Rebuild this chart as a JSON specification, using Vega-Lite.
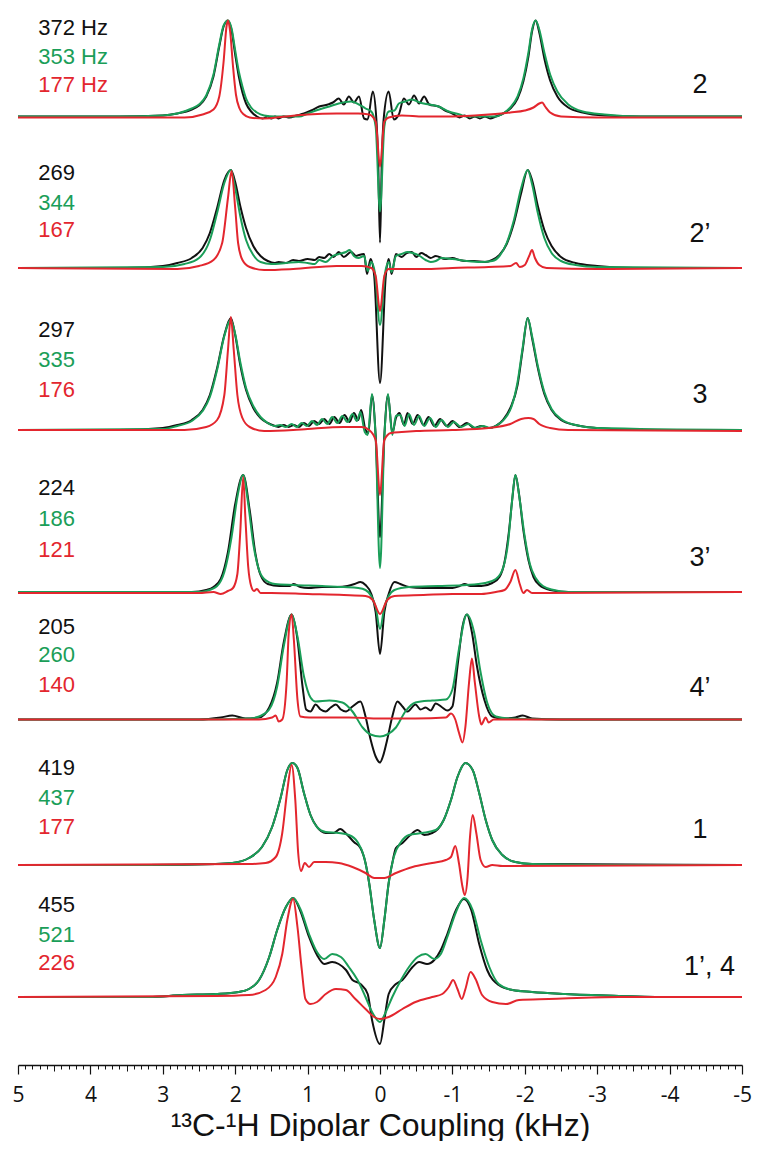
{
"$schema":"https://vega.github.io/schema/vega-lite/v6.json",
"padding":{"left":11,"top":0,"right":8,"bottom":0},
"background":"white",
"spacing":0,
"bounds":"flush",
"config":{"view":{"stroke":null},"concat":{"spacing":0},"text":{"font":"Liberation Sans"}},
"datasets":{
"labels":[
{"p":1,"b":"372 Hz","g":"353 Hz","r":"177 Hz","site":"2"},
{"p":2,"b":"269","g":"344","r":"167","site":"2’"},
{"p":3,"b":"297","g":"335","r":"176","site":"3"},
{"p":4,"b":"224","g":"186","r":"121","site":"3’"},
{"p":5,"b":"205","g":"260","r":"140","site":"4’"},
{"p":6,"b":"419","g":"437","r":"177","site":"1"},
{"p":7,"b":"455","g":"521","r":"226","site":"1’, 4"}
],
"p1":[
{"s":"b","x":5,"y":0},{"s":"b","x":3.6,"y":0},{"s":"b","x":3.0,"y":1},{"s":"b","x":2.8,"y":3},{"s":"b","x":2.6,"y":7},{"s":"b","x":2.5,"y":11},{"s":"b","x":2.4,"y":20},{"s":"b","x":2.3,"y":40},{"s":"b","x":2.22,"y":70},{"s":"b","x":2.16,"y":90},{"s":"b","x":2.1,"y":96},{"s":"b","x":2.05,"y":86},{"s":"b","x":2.0,"y":62},{"s":"b","x":1.95,"y":40},{"s":"b","x":1.9,"y":24},{"s":"b","x":1.85,"y":13},{"s":"b","x":1.78,"y":5},{"s":"b","x":1.7,"y":0},{"s":"b","x":1.62,"y":-2},{"s":"b","x":1.55,"y":0},{"s":"b","x":1.5,"y":-2},{"s":"b","x":1.45,"y":0},{"s":"b","x":1.4,"y":-2},{"s":"b","x":1.33,"y":0},{"s":"b","x":1.25,"y":-1},{"s":"b","x":1.15,"y":1},{"s":"b","x":1.05,"y":3},{"s":"b","x":0.95,"y":6},{"s":"b","x":0.84,"y":10},{"s":"b","x":0.72,"y":12},{"s":"b","x":0.65,"y":14},{"s":"b","x":0.57,"y":18},{"s":"b","x":0.5,"y":12},{"s":"b","x":0.43,"y":20},{"s":"b","x":0.36,"y":14},{"s":"b","x":0.29,"y":20},{"s":"b","x":0.22,"y":-2},{"s":"b","x":0.17,"y":-3},{"s":"b","x":0.1,"y":25},{"s":"b","x":0.05,"y":-3},{"s":"b","x":0.025,"y":-45},{"s":"b","x":0,"y":-126},{"s":"b","x":-0.025,"y":-45},{"s":"b","x":-0.05,"y":-3},{"s":"b","x":-0.12,"y":25},{"s":"b","x":-0.19,"y":-3},{"s":"b","x":-0.26,"y":2},{"s":"b","x":-0.33,"y":18},{"s":"b","x":-0.4,"y":12},{"s":"b","x":-0.47,"y":21},{"s":"b","x":-0.54,"y":13},{"s":"b","x":-0.61,"y":20},{"s":"b","x":-0.68,"y":12},{"s":"b","x":-0.81,"y":10},{"s":"b","x":-0.9,"y":6},{"s":"b","x":-1.0,"y":3},{"s":"b","x":-1.1,"y":-1},{"s":"b","x":-1.17,"y":1},{"s":"b","x":-1.24,"y":-2},{"s":"b","x":-1.31,"y":0},{"s":"b","x":-1.38,"y":-2},{"s":"b","x":-1.45,"y":0},{"s":"b","x":-1.52,"y":-2},{"s":"b","x":-1.6,"y":0},{"s":"b","x":-1.7,"y":3},{"s":"b","x":-1.8,"y":8},{"s":"b","x":-1.9,"y":18},{"s":"b","x":-1.98,"y":35},{"s":"b","x":-2.05,"y":60},{"s":"b","x":-2.1,"y":85},{"s":"b","x":-2.15,"y":96},{"s":"b","x":-2.2,"y":84},{"s":"b","x":-2.27,"y":58},{"s":"b","x":-2.35,"y":36},{"s":"b","x":-2.45,"y":20},{"s":"b","x":-2.6,"y":9},{"s":"b","x":-2.8,"y":4},{"s":"b","x":-3.1,"y":1},{"s":"b","x":-3.6,"y":0},{"s":"b","x":-5,"y":0},
{"s":"g","x":5,"y":0},{"s":"g","x":3.6,"y":0},{"s":"g","x":3.0,"y":1},{"s":"g","x":2.8,"y":3},{"s":"g","x":2.6,"y":8},{"s":"g","x":2.5,"y":12},{"s":"g","x":2.4,"y":21},{"s":"g","x":2.3,"y":42},{"s":"g","x":2.22,"y":72},{"s":"g","x":2.16,"y":91},{"s":"g","x":2.1,"y":96},{"s":"g","x":2.05,"y":88},{"s":"g","x":2.0,"y":66},{"s":"g","x":1.95,"y":45},{"s":"g","x":1.9,"y":30},{"s":"g","x":1.85,"y":18},{"s":"g","x":1.78,"y":9},{"s":"g","x":1.7,"y":4},{"s":"g","x":1.6,"y":1},{"s":"g","x":1.45,"y":0},{"s":"g","x":1.3,"y":0},{"s":"g","x":1.12,"y":0},{"s":"g","x":1.0,"y":3},{"s":"g","x":0.84,"y":7},{"s":"g","x":0.7,"y":10},{"s":"g","x":0.57,"y":13},{"s":"g","x":0.4,"y":15},{"s":"g","x":0.29,"y":12},{"s":"g","x":0.2,"y":8},{"s":"g","x":0.12,"y":5},{"s":"g","x":0.06,"y":-10},{"s":"g","x":0,"y":-95},{"s":"g","x":-0.06,"y":-10},{"s":"g","x":-0.12,"y":5},{"s":"g","x":-0.2,"y":6},{"s":"g","x":-0.26,"y":13},{"s":"g","x":-0.35,"y":15},{"s":"g","x":-0.44,"y":17},{"s":"g","x":-0.55,"y":14},{"s":"g","x":-0.68,"y":12},{"s":"g","x":-0.81,"y":10},{"s":"g","x":-0.95,"y":5},{"s":"g","x":-1.1,"y":2},{"s":"g","x":-1.2,"y":0},{"s":"g","x":-1.6,"y":0},{"s":"g","x":-1.7,"y":3},{"s":"g","x":-1.8,"y":9},{"s":"g","x":-1.9,"y":20},{"s":"g","x":-1.98,"y":38},{"s":"g","x":-2.05,"y":64},{"s":"g","x":-2.1,"y":87},{"s":"g","x":-2.15,"y":96},{"s":"g","x":-2.2,"y":87},{"s":"g","x":-2.27,"y":64},{"s":"g","x":-2.35,"y":42},{"s":"g","x":-2.45,"y":25},{"s":"g","x":-2.6,"y":12},{"s":"g","x":-2.8,"y":5},{"s":"g","x":-3.1,"y":2},{"s":"g","x":-3.6,"y":0},{"s":"g","x":-5,"y":0},
{"s":"r","x":5,"y":-1},{"s":"r","x":3.5,"y":-1},{"s":"r","x":2.7,"y":-1},{"s":"r","x":2.45,"y":2},{"s":"r","x":2.3,"y":7},{"s":"r","x":2.22,"y":20},{"s":"r","x":2.16,"y":55},{"s":"r","x":2.12,"y":90},{"s":"r","x":2.1,"y":96},{"s":"r","x":2.07,"y":85},{"s":"r","x":2.03,"y":50},{"s":"r","x":1.99,"y":22},{"s":"r","x":1.94,"y":8},{"s":"r","x":1.88,"y":2},{"s":"r","x":1.8,"y":-1},{"s":"r","x":1.6,"y":-2},{"s":"r","x":1.3,"y":0},{"s":"r","x":1.0,"y":2},{"s":"r","x":0.6,"y":3},{"s":"r","x":0.3,"y":3},{"s":"r","x":0.15,"y":2},{"s":"r","x":0.06,"y":-5},{"s":"r","x":0,"y":-50},{"s":"r","x":-0.06,"y":-5},{"s":"r","x":-0.12,"y":-1},{"s":"r","x":-0.3,"y":1},{"s":"r","x":-0.6,"y":0},{"s":"r","x":-1.0,"y":0},{"s":"r","x":-1.5,"y":2},{"s":"r","x":-1.8,"y":4},{"s":"r","x":-2.0,"y":6},{"s":"r","x":-2.12,"y":9},{"s":"r","x":-2.2,"y":13},{"s":"r","x":-2.24,"y":14},{"s":"r","x":-2.28,"y":10},{"s":"r","x":-2.35,"y":4},{"s":"r","x":-2.5,"y":0},{"s":"r","x":-3.0,"y":-1},{"s":"r","x":-5,"y":-1}
],
"p2":[
{"s":"b","x":5,"y":0},{"s":"b","x":3.5,"y":0},{"s":"b","x":3.0,"y":2},{"s":"b","x":2.8,"y":5},{"s":"b","x":2.6,"y":10},{"s":"b","x":2.45,"y":20},{"s":"b","x":2.35,"y":35},{"s":"b","x":2.25,"y":60},{"s":"b","x":2.15,"y":88},{"s":"b","x":2.06,"y":98},{"s":"b","x":2.0,"y":86},{"s":"b","x":1.93,"y":62},{"s":"b","x":1.85,"y":40},{"s":"b","x":1.75,"y":22},{"s":"b","x":1.65,"y":12},{"s":"b","x":1.55,"y":7},{"s":"b","x":1.45,"y":5},{"s":"b","x":1.4,"y":6},{"s":"b","x":1.3,"y":5},{"s":"b","x":1.2,"y":8},{"s":"b","x":1.12,"y":7},{"s":"b","x":1.0,"y":9},{"s":"b","x":0.9,"y":8},{"s":"b","x":0.84,"y":11},{"s":"b","x":0.77,"y":10},{"s":"b","x":0.7,"y":14},{"s":"b","x":0.64,"y":11},{"s":"b","x":0.57,"y":16},{"s":"b","x":0.5,"y":11},{"s":"b","x":0.4,"y":16},{"s":"b","x":0.33,"y":12},{"s":"b","x":0.29,"y":13},{"s":"b","x":0.22,"y":14},{"s":"b","x":0.18,"y":-6},{"s":"b","x":0.13,"y":9},{"s":"b","x":0.08,"y":-8},{"s":"b","x":0,"y":-115},{"s":"b","x":-0.08,"y":-8},{"s":"b","x":-0.12,"y":9},{"s":"b","x":-0.16,"y":-6},{"s":"b","x":-0.22,"y":14},{"s":"b","x":-0.3,"y":11},{"s":"b","x":-0.37,"y":15},{"s":"b","x":-0.44,"y":16},{"s":"b","x":-0.5,"y":11},{"s":"b","x":-0.57,"y":15},{"s":"b","x":-0.63,"y":13},{"s":"b","x":-0.7,"y":10},{"s":"b","x":-0.77,"y":12},{"s":"b","x":-0.9,"y":9},{"s":"b","x":-1.0,"y":10},{"s":"b","x":-1.1,"y":8},{"s":"b","x":-1.19,"y":7},{"s":"b","x":-1.3,"y":7},{"s":"b","x":-1.45,"y":6},{"s":"b","x":-1.55,"y":8},{"s":"b","x":-1.65,"y":13},{"s":"b","x":-1.75,"y":24},{"s":"b","x":-1.85,"y":45},{"s":"b","x":-1.95,"y":75},{"s":"b","x":-2.04,"y":98},{"s":"b","x":-2.1,"y":88},{"s":"b","x":-2.18,"y":62},{"s":"b","x":-2.27,"y":38},{"s":"b","x":-2.37,"y":22},{"s":"b","x":-2.5,"y":11},{"s":"b","x":-2.7,"y":5},{"s":"b","x":-3.0,"y":2},{"s":"b","x":-3.5,"y":0},{"s":"b","x":-5,"y":0},
{"s":"g","x":5,"y":0},{"s":"g","x":3.0,"y":1},{"s":"g","x":2.7,"y":4},{"s":"g","x":2.5,"y":10},{"s":"g","x":2.35,"y":28},{"s":"g","x":2.25,"y":55},{"s":"g","x":2.15,"y":85},{"s":"g","x":2.06,"y":98},{"s":"g","x":2.0,"y":80},{"s":"g","x":1.93,"y":52},{"s":"g","x":1.85,"y":28},{"s":"g","x":1.75,"y":13},{"s":"g","x":1.65,"y":6},{"s":"g","x":1.5,"y":4},{"s":"g","x":1.3,"y":5},{"s":"g","x":1.12,"y":6},{"s":"g","x":1.0,"y":5},{"s":"g","x":0.9,"y":4},{"s":"g","x":0.84,"y":8},{"s":"g","x":0.75,"y":6},{"s":"g","x":0.65,"y":12},{"s":"g","x":0.57,"y":14},{"s":"g","x":0.47,"y":16},{"s":"g","x":0.42,"y":18},{"s":"g","x":0.36,"y":12},{"s":"g","x":0.3,"y":10},{"s":"g","x":0.22,"y":12},{"s":"g","x":0.17,"y":-3},{"s":"g","x":0.12,"y":6},{"s":"g","x":0.07,"y":-5},{"s":"g","x":0,"y":-57},{"s":"g","x":-0.07,"y":-5},{"s":"g","x":-0.12,"y":6},{"s":"g","x":-0.16,"y":-4},{"s":"g","x":-0.22,"y":12},{"s":"g","x":-0.3,"y":14},{"s":"g","x":-0.38,"y":16},{"s":"g","x":-0.45,"y":15},{"s":"g","x":-0.55,"y":12},{"s":"g","x":-0.63,"y":8},{"s":"g","x":-0.7,"y":6},{"s":"g","x":-0.77,"y":7},{"s":"g","x":-0.85,"y":10},{"s":"g","x":-1.0,"y":9},{"s":"g","x":-1.2,"y":7},{"s":"g","x":-1.4,"y":6},{"s":"g","x":-1.55,"y":7},{"s":"g","x":-1.65,"y":12},{"s":"g","x":-1.75,"y":25},{"s":"g","x":-1.85,"y":48},{"s":"g","x":-1.95,"y":80},{"s":"g","x":-2.04,"y":98},{"s":"g","x":-2.1,"y":84},{"s":"g","x":-2.18,"y":55},{"s":"g","x":-2.27,"y":30},{"s":"g","x":-2.37,"y":15},{"s":"g","x":-2.5,"y":7},{"s":"g","x":-2.7,"y":3},{"s":"g","x":-3.0,"y":1},{"s":"g","x":-5,"y":0},
{"s":"r","x":5,"y":0},{"s":"r","x":2.8,"y":-1},{"s":"r","x":2.5,"y":2},{"s":"r","x":2.3,"y":8},{"s":"r","x":2.18,"y":25},{"s":"r","x":2.1,"y":70},{"s":"r","x":2.05,"y":97},{"s":"r","x":2.0,"y":60},{"s":"r","x":1.96,"y":25},{"s":"r","x":1.9,"y":8},{"s":"r","x":1.8,"y":1},{"s":"r","x":1.6,"y":-2},{"s":"r","x":1.2,"y":-1},{"s":"r","x":0.6,"y":2},{"s":"r","x":0.25,"y":2},{"s":"r","x":0.12,"y":0},{"s":"r","x":0.06,"y":-8},{"s":"r","x":0,"y":-43},{"s":"r","x":-0.06,"y":-8},{"s":"r","x":-0.12,"y":-1},{"s":"r","x":-0.3,"y":-1},{"s":"r","x":-0.6,"y":-1},{"s":"r","x":-1.0,"y":0},{"s":"r","x":-1.5,"y":1},{"s":"r","x":-1.8,"y":2},{"s":"r","x":-1.88,"y":5},{"s":"r","x":-1.93,"y":1},{"s":"r","x":-2.0,"y":3},{"s":"r","x":-2.06,"y":12},{"s":"r","x":-2.1,"y":18},{"s":"r","x":-2.14,"y":10},{"s":"r","x":-2.2,"y":3},{"s":"r","x":-2.3,"y":0},{"s":"r","x":-3.0,"y":-1},{"s":"r","x":-5,"y":0}
],
"p3":[
{"s":"b","x":5,"y":0},{"s":"b","x":3.6,"y":0},{"s":"b","x":3.0,"y":2},{"s":"b","x":2.8,"y":5},{"s":"b","x":2.6,"y":10},{"s":"b","x":2.45,"y":20},{"s":"b","x":2.35,"y":35},{"s":"b","x":2.25,"y":62},{"s":"b","x":2.15,"y":95},{"s":"b","x":2.06,"y":112},{"s":"b","x":2.0,"y":95},{"s":"b","x":1.93,"y":65},{"s":"b","x":1.85,"y":40},{"s":"b","x":1.75,"y":22},{"s":"b","x":1.65,"y":12},{"s":"b","x":1.55,"y":7},{"s":"b","x":1.45,"y":4},{"s":"b","x":1.4,"y":3},{"s":"b","x":1.33,"y":5},{"s":"b","x":1.26,"y":3},{"s":"b","x":1.19,"y":5},{"s":"b","x":1.12,"y":3},{"s":"b","x":1.05,"y":7},{"s":"b","x":0.98,"y":4},{"s":"b","x":0.91,"y":9},{"s":"b","x":0.84,"y":6},{"s":"b","x":0.77,"y":11},{"s":"b","x":0.7,"y":6},{"s":"b","x":0.63,"y":13},{"s":"b","x":0.56,"y":7},{"s":"b","x":0.49,"y":15},{"s":"b","x":0.42,"y":8},{"s":"b","x":0.36,"y":17},{"s":"b","x":0.3,"y":10},{"s":"b","x":0.26,"y":20},{"s":"b","x":0.2,"y":0},{"s":"b","x":0.16,"y":-3},{"s":"b","x":0.11,"y":35},{"s":"b","x":0.06,"y":-5},{"s":"b","x":0,"y":-107},{"s":"b","x":-0.06,"y":-5},{"s":"b","x":-0.11,"y":35},{"s":"b","x":-0.17,"y":-3},{"s":"b","x":-0.22,"y":12},{"s":"b","x":-0.27,"y":17},{"s":"b","x":-0.33,"y":5},{"s":"b","x":-0.38,"y":17},{"s":"b","x":-0.45,"y":6},{"s":"b","x":-0.52,"y":15},{"s":"b","x":-0.6,"y":5},{"s":"b","x":-0.67,"y":13},{"s":"b","x":-0.75,"y":4},{"s":"b","x":-0.83,"y":11},{"s":"b","x":-0.92,"y":4},{"s":"b","x":-1.0,"y":9},{"s":"b","x":-1.1,"y":3},{"s":"b","x":-1.2,"y":7},{"s":"b","x":-1.3,"y":2},{"s":"b","x":-1.4,"y":4},{"s":"b","x":-1.5,"y":2},{"s":"b","x":-1.6,"y":4},{"s":"b","x":-1.7,"y":10},{"s":"b","x":-1.8,"y":22},{"s":"b","x":-1.9,"y":45},{"s":"b","x":-1.97,"y":80},{"s":"b","x":-2.04,"y":112},{"s":"b","x":-2.1,"y":92},{"s":"b","x":-2.18,"y":62},{"s":"b","x":-2.27,"y":36},{"s":"b","x":-2.37,"y":20},{"s":"b","x":-2.5,"y":10},{"s":"b","x":-2.7,"y":5},{"s":"b","x":-3.0,"y":2},{"s":"b","x":-3.6,"y":0},{"s":"b","x":-5,"y":0},
{"s":"g","x":5,"y":0},{"s":"g","x":3.0,"y":1},{"s":"g","x":2.8,"y":4},{"s":"g","x":2.6,"y":9},{"s":"g","x":2.45,"y":19},{"s":"g","x":2.35,"y":33},{"s":"g","x":2.25,"y":60},{"s":"g","x":2.15,"y":94},{"s":"g","x":2.06,"y":110},{"s":"g","x":2.0,"y":96},{"s":"g","x":1.93,"y":68},{"s":"g","x":1.85,"y":42},{"s":"g","x":1.75,"y":24},{"s":"g","x":1.65,"y":13},{"s":"g","x":1.55,"y":7},{"s":"g","x":1.45,"y":4},{"s":"g","x":1.38,"y":5},{"s":"g","x":1.3,"y":3},{"s":"g","x":1.22,"y":6},{"s":"g","x":1.15,"y":3},{"s":"g","x":1.08,"y":7},{"s":"g","x":1.01,"y":4},{"s":"g","x":0.94,"y":9},{"s":"g","x":0.87,"y":5},{"s":"g","x":0.8,"y":11},{"s":"g","x":0.73,"y":6},{"s":"g","x":0.66,"y":13},{"s":"g","x":0.59,"y":7},{"s":"g","x":0.52,"y":14},{"s":"g","x":0.45,"y":8},{"s":"g","x":0.38,"y":16},{"s":"g","x":0.32,"y":9},{"s":"g","x":0.27,"y":18},{"s":"g","x":0.21,"y":-2},{"s":"g","x":0.17,"y":-5},{"s":"g","x":0.11,"y":36},{"s":"g","x":0.06,"y":-8},{"s":"g","x":0,"y":-138},{"s":"g","x":-0.06,"y":-8},{"s":"g","x":-0.11,"y":36},{"s":"g","x":-0.17,"y":-5},{"s":"g","x":-0.22,"y":14},{"s":"g","x":-0.28,"y":15},{"s":"g","x":-0.34,"y":4},{"s":"g","x":-0.4,"y":16},{"s":"g","x":-0.47,"y":5},{"s":"g","x":-0.54,"y":14},{"s":"g","x":-0.61,"y":4},{"s":"g","x":-0.69,"y":12},{"s":"g","x":-0.77,"y":3},{"s":"g","x":-0.85,"y":10},{"s":"g","x":-0.94,"y":3},{"s":"g","x":-1.02,"y":8},{"s":"g","x":-1.12,"y":3},{"s":"g","x":-1.22,"y":6},{"s":"g","x":-1.32,"y":2},{"s":"g","x":-1.42,"y":4},{"s":"g","x":-1.52,"y":2},{"s":"g","x":-1.62,"y":5},{"s":"g","x":-1.72,"y":11},{"s":"g","x":-1.82,"y":24},{"s":"g","x":-1.9,"y":48},{"s":"g","x":-1.97,"y":82},{"s":"g","x":-2.04,"y":112},{"s":"g","x":-2.1,"y":94},{"s":"g","x":-2.18,"y":64},{"s":"g","x":-2.27,"y":38},{"s":"g","x":-2.37,"y":21},{"s":"g","x":-2.5,"y":11},{"s":"g","x":-2.7,"y":5},{"s":"g","x":-3.0,"y":2},{"s":"g","x":-5,"y":0},
{"s":"r","x":5,"y":0},{"s":"r","x":2.7,"y":0},{"s":"r","x":2.4,"y":3},{"s":"r","x":2.25,"y":10},{"s":"r","x":2.15,"y":35},{"s":"r","x":2.1,"y":80},{"s":"r","x":2.06,"y":113},{"s":"r","x":2.02,"y":80},{"s":"r","x":1.97,"y":35},{"s":"r","x":1.9,"y":12},{"s":"r","x":1.8,"y":3},{"s":"r","x":1.6,"y":-1},{"s":"r","x":1.2,"y":0},{"s":"r","x":1.0,"y":1},{"s":"r","x":0.5,"y":3},{"s":"r","x":0.25,"y":3},{"s":"r","x":0.15,"y":0},{"s":"r","x":0.06,"y":-10},{"s":"r","x":0,"y":-65},{"s":"r","x":-0.06,"y":-10},{"s":"r","x":-0.15,"y":-3},{"s":"r","x":-0.3,"y":-2},{"s":"r","x":-0.5,"y":-1},{"s":"r","x":-1.0,"y":0},{"s":"r","x":-1.5,"y":2},{"s":"r","x":-1.8,"y":6},{"s":"r","x":-1.95,"y":11},{"s":"r","x":-2.05,"y":12},{"s":"r","x":-2.12,"y":11},{"s":"r","x":-2.2,"y":6},{"s":"r","x":-2.35,"y":2},{"s":"r","x":-2.6,"y":0},{"s":"r","x":-5,"y":-1}
],
"p4":[
{"s":"b","x":5,"y":0},{"s":"b","x":2.6,"y":0},{"s":"b","x":2.4,"y":2},{"s":"b","x":2.3,"y":5},{"s":"b","x":2.2,"y":13},{"s":"b","x":2.1,"y":40},{"s":"b","x":2.0,"y":88},{"s":"b","x":1.89,"y":117},{"s":"b","x":1.8,"y":82},{"s":"b","x":1.72,"y":38},{"s":"b","x":1.65,"y":17},{"s":"b","x":1.55,"y":8},{"s":"b","x":1.39,"y":6},{"s":"b","x":1.25,"y":6},{"s":"b","x":1.19,"y":8},{"s":"b","x":1.1,"y":5},{"s":"b","x":0.99,"y":4},{"s":"b","x":0.8,"y":5},{"s":"b","x":0.59,"y":5},{"s":"b","x":0.45,"y":6},{"s":"b","x":0.35,"y":8},{"s":"b","x":0.27,"y":10},{"s":"b","x":0.2,"y":7},{"s":"b","x":0.12,"y":-2},{"s":"b","x":0.06,"y":-20},{"s":"b","x":0,"y":-62},{"s":"b","x":-0.06,"y":-20},{"s":"b","x":-0.12,"y":-2},{"s":"b","x":-0.2,"y":10},{"s":"b","x":-0.28,"y":8},{"s":"b","x":-0.4,"y":5},{"s":"b","x":-0.6,"y":4},{"s":"b","x":-1.0,"y":4},{"s":"b","x":-1.1,"y":6},{"s":"b","x":-1.17,"y":8},{"s":"b","x":-1.25,"y":6},{"s":"b","x":-1.4,"y":6},{"s":"b","x":-1.55,"y":9},{"s":"b","x":-1.65,"y":15},{"s":"b","x":-1.72,"y":30},{"s":"b","x":-1.78,"y":60},{"s":"b","x":-1.83,"y":95},{"s":"b","x":-1.87,"y":117},{"s":"b","x":-1.92,"y":98},{"s":"b","x":-1.98,"y":62},{"s":"b","x":-2.05,"y":32},{"s":"b","x":-2.12,"y":15},{"s":"b","x":-2.2,"y":7},{"s":"b","x":-2.35,"y":2},{"s":"b","x":-2.6,"y":0},{"s":"b","x":-5,"y":0},
{"s":"g","x":5,"y":0},{"s":"g","x":2.5,"y":0},{"s":"g","x":2.4,"y":1},{"s":"g","x":2.25,"y":6},{"s":"g","x":2.15,"y":20},{"s":"g","x":2.05,"y":55},{"s":"g","x":1.97,"y":95},{"s":"g","x":1.89,"y":117},{"s":"g","x":1.82,"y":88},{"s":"g","x":1.75,"y":48},{"s":"g","x":1.68,"y":24},{"s":"g","x":1.6,"y":13},{"s":"g","x":1.45,"y":8},{"s":"g","x":1.2,"y":7},{"s":"g","x":0.8,"y":6},{"s":"g","x":0.5,"y":5},{"s":"g","x":0.3,"y":4},{"s":"g","x":0.2,"y":2},{"s":"g","x":0.12,"y":-4},{"s":"g","x":0.06,"y":-15},{"s":"g","x":0,"y":-37},{"s":"g","x":-0.06,"y":-15},{"s":"g","x":-0.12,"y":-4},{"s":"g","x":-0.2,"y":2},{"s":"g","x":-0.4,"y":5},{"s":"g","x":-0.8,"y":6},{"s":"g","x":-1.2,"y":7},{"s":"g","x":-1.45,"y":9},{"s":"g","x":-1.6,"y":13},{"s":"g","x":-1.7,"y":24},{"s":"g","x":-1.77,"y":50},{"s":"g","x":-1.82,"y":88},{"s":"g","x":-1.87,"y":117},{"s":"g","x":-1.93,"y":92},{"s":"g","x":-2.0,"y":55},{"s":"g","x":-2.07,"y":28},{"s":"g","x":-2.15,"y":14},{"s":"g","x":-2.25,"y":6},{"s":"g","x":-2.4,"y":2},{"s":"g","x":-2.6,"y":0},{"s":"g","x":-5,"y":0},
{"s":"r","x":5,"y":-1},{"s":"r","x":2.5,"y":-1},{"s":"r","x":2.3,"y":0},{"s":"r","x":2.2,"y":-2},{"s":"r","x":2.1,"y":1},{"s":"r","x":2.03,"y":4},{"s":"r","x":1.97,"y":18},{"s":"r","x":1.93,"y":60},{"s":"r","x":1.89,"y":115},{"s":"r","x":1.86,"y":75},{"s":"r","x":1.82,"y":25},{"s":"r","x":1.78,"y":6},{"s":"r","x":1.74,"y":1},{"s":"r","x":1.7,"y":3},{"s":"r","x":1.65,"y":-1},{"s":"r","x":1.5,"y":-1},{"s":"r","x":1.0,"y":-2},{"s":"r","x":0.5,"y":-3},{"s":"r","x":0.2,"y":-4},{"s":"r","x":0.1,"y":-8},{"s":"r","x":0,"y":-22},{"s":"r","x":-0.1,"y":-8},{"s":"r","x":-0.2,"y":-4},{"s":"r","x":-0.6,"y":-3},{"s":"r","x":-1.0,"y":-2},{"s":"r","x":-1.4,"y":-2},{"s":"r","x":-1.6,"y":0},{"s":"r","x":-1.72,"y":2},{"s":"r","x":-1.8,"y":10},{"s":"r","x":-1.87,"y":22},{"s":"r","x":-1.93,"y":8},{"s":"r","x":-1.98,"y":-1},{"s":"r","x":-2.03,"y":2},{"s":"r","x":-2.1,"y":-1},{"s":"r","x":-2.3,"y":-1},{"s":"r","x":-5,"y":0}
],
"p5":[
{"s":"b","x":5,"y":0},{"s":"b","x":2.5,"y":0},{"s":"b","x":2.2,"y":2},{"s":"b","x":2.04,"y":4},{"s":"b","x":1.86,"y":1},{"s":"b","x":1.67,"y":2},{"s":"b","x":1.53,"y":12},{"s":"b","x":1.42,"y":37},{"s":"b","x":1.33,"y":77},{"s":"b","x":1.22,"y":105},{"s":"b","x":1.14,"y":80},{"s":"b","x":1.07,"y":33},{"s":"b","x":1.02,"y":10},{"s":"b","x":0.96,"y":8},{"s":"b","x":0.89,"y":15},{"s":"b","x":0.82,"y":10},{"s":"b","x":0.75,"y":8},{"s":"b","x":0.68,"y":12},{"s":"b","x":0.61,"y":15},{"s":"b","x":0.54,"y":10},{"s":"b","x":0.47,"y":8},{"s":"b","x":0.38,"y":13},{"s":"b","x":0.27,"y":18},{"s":"b","x":0.2,"y":3},{"s":"b","x":0.13,"y":-20},{"s":"b","x":0.06,"y":-37},{"s":"b","x":0,"y":-43},{"s":"b","x":-0.04,"y":-37},{"s":"b","x":-0.1,"y":-20},{"s":"b","x":-0.17,"y":3},{"s":"b","x":-0.24,"y":18},{"s":"b","x":-0.31,"y":13},{"s":"b","x":-0.38,"y":8},{"s":"b","x":-0.49,"y":15},{"s":"b","x":-0.56,"y":10},{"s":"b","x":-0.63,"y":12},{"s":"b","x":-0.7,"y":9},{"s":"b","x":-0.77,"y":16},{"s":"b","x":-0.86,"y":12},{"s":"b","x":-0.93,"y":9},{"s":"b","x":-1.0,"y":13},{"s":"b","x":-1.07,"y":53},{"s":"b","x":-1.14,"y":93},{"s":"b","x":-1.2,"y":105},{"s":"b","x":-1.27,"y":87},{"s":"b","x":-1.34,"y":53},{"s":"b","x":-1.44,"y":20},{"s":"b","x":-1.55,"y":3},{"s":"b","x":-1.69,"y":1},{"s":"b","x":-1.87,"y":2},{"s":"b","x":-1.97,"y":4},{"s":"b","x":-2.1,"y":1},{"s":"b","x":-2.5,"y":0},{"s":"b","x":-5,"y":0},
{"s":"g","x":5,"y":0},{"s":"g","x":2.5,"y":0},{"s":"g","x":1.8,"y":1},{"s":"g","x":1.67,"y":3},{"s":"g","x":1.53,"y":10},{"s":"g","x":1.42,"y":33},{"s":"g","x":1.33,"y":73},{"s":"g","x":1.22,"y":105},{"s":"g","x":1.14,"y":83},{"s":"g","x":1.05,"y":43},{"s":"g","x":0.96,"y":22},{"s":"g","x":0.89,"y":18},{"s":"g","x":0.7,"y":19},{"s":"g","x":0.52,"y":17},{"s":"g","x":0.38,"y":8},{"s":"g","x":0.24,"y":-8},{"s":"g","x":0.13,"y":-15},{"s":"g","x":0,"y":-17},{"s":"g","x":-0.1,"y":-15},{"s":"g","x":-0.22,"y":-8},{"s":"g","x":-0.35,"y":8},{"s":"g","x":-0.49,"y":17},{"s":"g","x":-0.72,"y":19},{"s":"g","x":-0.91,"y":20},{"s":"g","x":-1.0,"y":30},{"s":"g","x":-1.09,"y":70},{"s":"g","x":-1.2,"y":105},{"s":"g","x":-1.3,"y":87},{"s":"g","x":-1.39,"y":47},{"s":"g","x":-1.48,"y":17},{"s":"g","x":-1.6,"y":3},{"s":"g","x":-1.78,"y":1},{"s":"g","x":-2.5,"y":0},{"s":"g","x":-5,"y":0},
{"s":"r","x":5,"y":0},{"s":"r","x":1.67,"y":0},{"s":"r","x":1.49,"y":2},{"s":"r","x":1.44,"y":4},{"s":"r","x":1.4,"y":-2},{"s":"r","x":1.35,"y":0},{"s":"r","x":1.29,"y":37},{"s":"r","x":1.26,"y":87},{"s":"r","x":1.22,"y":105},{"s":"r","x":1.19,"y":80},{"s":"r","x":1.14,"y":20},{"s":"r","x":1.1,"y":3},{"s":"r","x":0.98,"y":2},{"s":"r","x":0.43,"y":2},{"s":"r","x":0,"y":1},{"s":"r","x":-0.49,"y":1},{"s":"r","x":-0.91,"y":2},{"s":"r","x":-0.98,"y":6},{"s":"r","x":-1.04,"y":0},{"s":"r","x":-1.09,"y":-13},{"s":"r","x":-1.14,"y":-23},{"s":"r","x":-1.18,"y":-7},{"s":"r","x":-1.23,"y":37},{"s":"r","x":-1.27,"y":61},{"s":"r","x":-1.31,"y":37},{"s":"r","x":-1.37,"y":3},{"s":"r","x":-1.4,"y":-5},{"s":"r","x":-1.46,"y":2},{"s":"r","x":-1.5,"y":-3},{"s":"r","x":-1.57,"y":0},{"s":"r","x":-5,"y":0}
],
"p6":[
{"s":"b","x":5,"y":0},{"s":"b","x":3.2,"y":0},{"s":"b","x":2.27,"y":1},{"s":"b","x":2.04,"y":2},{"s":"b","x":1.81,"y":7},{"s":"b","x":1.63,"y":18},{"s":"b","x":1.49,"y":38},{"s":"b","x":1.37,"y":68},{"s":"b","x":1.28,"y":95},{"s":"b","x":1.21,"y":102},{"s":"b","x":1.14,"y":97},{"s":"b","x":1.05,"y":72},{"s":"b","x":0.96,"y":50},{"s":"b","x":0.87,"y":38},{"s":"b","x":0.75,"y":32},{"s":"b","x":0.64,"y":32},{"s":"b","x":0.55,"y":36},{"s":"b","x":0.45,"y":30},{"s":"b","x":0.36,"y":23},{"s":"b","x":0.27,"y":17},{"s":"b","x":0.2,"y":2},{"s":"b","x":0.15,"y":-18},{"s":"b","x":0.08,"y":-55},{"s":"b","x":0,"y":-83},{"s":"b","x":-0.06,"y":-55},{"s":"b","x":-0.12,"y":-18},{"s":"b","x":-0.17,"y":2},{"s":"b","x":-0.22,"y":17},{"s":"b","x":-0.31,"y":22},{"s":"b","x":-0.42,"y":30},{"s":"b","x":-0.52,"y":35},{"s":"b","x":-0.61,"y":30},{"s":"b","x":-0.72,"y":32},{"s":"b","x":-0.8,"y":36},{"s":"b","x":-0.88,"y":45},{"s":"b","x":-0.98,"y":65},{"s":"b","x":-1.07,"y":88},{"s":"b","x":-1.18,"y":102},{"s":"b","x":-1.28,"y":95},{"s":"b","x":-1.37,"y":72},{"s":"b","x":-1.46,"y":45},{"s":"b","x":-1.55,"y":25},{"s":"b","x":-1.69,"y":10},{"s":"b","x":-1.87,"y":3},{"s":"b","x":-2.1,"y":1},{"s":"b","x":-5,"y":0},
{"s":"g","x":5,"y":0},{"s":"g","x":3.2,"y":0},{"s":"g","x":2.27,"y":1},{"s":"g","x":2.04,"y":2},{"s":"g","x":1.81,"y":7},{"s":"g","x":1.63,"y":18},{"s":"g","x":1.49,"y":38},{"s":"g","x":1.37,"y":68},{"s":"g","x":1.28,"y":95},{"s":"g","x":1.21,"y":102},{"s":"g","x":1.14,"y":97},{"s":"g","x":1.05,"y":72},{"s":"g","x":0.96,"y":50},{"s":"g","x":0.87,"y":38},{"s":"g","x":0.75,"y":33},{"s":"g","x":0.57,"y":32},{"s":"g","x":0.43,"y":30},{"s":"g","x":0.31,"y":23},{"s":"g","x":0.22,"y":8},{"s":"g","x":0.15,"y":-18},{"s":"g","x":0.08,"y":-55},{"s":"g","x":0,"y":-83},{"s":"g","x":-0.06,"y":-55},{"s":"g","x":-0.12,"y":-18},{"s":"g","x":-0.19,"y":8},{"s":"g","x":-0.29,"y":23},{"s":"g","x":-0.4,"y":30},{"s":"g","x":-0.58,"y":32},{"s":"g","x":-0.77,"y":35},{"s":"g","x":-0.88,"y":45},{"s":"g","x":-0.98,"y":65},{"s":"g","x":-1.07,"y":88},{"s":"g","x":-1.18,"y":102},{"s":"g","x":-1.28,"y":95},{"s":"g","x":-1.37,"y":72},{"s":"g","x":-1.46,"y":45},{"s":"g","x":-1.55,"y":25},{"s":"g","x":-1.69,"y":10},{"s":"g","x":-1.87,"y":3},{"s":"g","x":-2.1,"y":1},{"s":"g","x":-3.3,"y":0},{"s":"g","x":-5,"y":0},
{"s":"r","x":5,"y":0},{"s":"r","x":1.81,"y":1},{"s":"r","x":1.58,"y":2},{"s":"r","x":1.44,"y":8},{"s":"r","x":1.35,"y":32},{"s":"r","x":1.28,"y":75},{"s":"r","x":1.22,"y":100},{"s":"r","x":1.17,"y":65},{"s":"r","x":1.13,"y":12},{"s":"r","x":1.09,"y":-6},{"s":"r","x":1.04,"y":2},{"s":"r","x":0.98,"y":-2},{"s":"r","x":0.91,"y":3},{"s":"r","x":0.75,"y":3},{"s":"r","x":0.57,"y":2},{"s":"r","x":0.38,"y":-2},{"s":"r","x":0.2,"y":-8},{"s":"r","x":0.08,"y":-13},{"s":"r","x":-0.06,"y":-13},{"s":"r","x":-0.22,"y":-8},{"s":"r","x":-0.45,"y":-2},{"s":"r","x":-0.72,"y":2},{"s":"r","x":-0.91,"y":5},{"s":"r","x":-0.98,"y":8},{"s":"r","x":-1.04,"y":19},{"s":"r","x":-1.09,"y":2},{"s":"r","x":-1.14,"y":-22},{"s":"r","x":-1.17,"y":-30},{"s":"r","x":-1.21,"y":-12},{"s":"r","x":-1.24,"y":25},{"s":"r","x":-1.28,"y":50},{"s":"r","x":-1.33,"y":32},{"s":"r","x":-1.39,"y":5},{"s":"r","x":-1.46,"y":-2},{"s":"r","x":-1.55,"y":0},{"s":"r","x":-1.69,"y":-1},{"s":"r","x":-5,"y":0}
],
"p7":[
{"s":"b","x":5,"y":0},{"s":"b","x":3.5,"y":0},{"s":"b","x":3.19,"y":0},{"s":"b","x":2.73,"y":2},{"s":"b","x":2.27,"y":3},{"s":"b","x":1.95,"y":5},{"s":"b","x":1.81,"y":8},{"s":"b","x":1.67,"y":17},{"s":"b","x":1.53,"y":40},{"s":"b","x":1.42,"y":67},{"s":"b","x":1.3,"y":90},{"s":"b","x":1.2,"y":99},{"s":"b","x":1.1,"y":86},{"s":"b","x":0.98,"y":60},{"s":"b","x":0.87,"y":42},{"s":"b","x":0.77,"y":33},{"s":"b","x":0.66,"y":35},{"s":"b","x":0.57,"y":33},{"s":"b","x":0.47,"y":27},{"s":"b","x":0.38,"y":17},{"s":"b","x":0.27,"y":13},{"s":"b","x":0.17,"y":3},{"s":"b","x":0.11,"y":-23},{"s":"b","x":0,"y":-47},{"s":"b","x":-0.06,"y":-23},{"s":"b","x":-0.12,"y":3},{"s":"b","x":-0.22,"y":13},{"s":"b","x":-0.31,"y":17},{"s":"b","x":-0.45,"y":30},{"s":"b","x":-0.54,"y":35},{"s":"b","x":-0.65,"y":33},{"s":"b","x":-0.75,"y":37},{"s":"b","x":-0.84,"y":47},{"s":"b","x":-0.93,"y":63},{"s":"b","x":-1.05,"y":87},{"s":"b","x":-1.16,"y":98},{"s":"b","x":-1.26,"y":87},{"s":"b","x":-1.37,"y":53},{"s":"b","x":-1.48,"y":27},{"s":"b","x":-1.64,"y":12},{"s":"b","x":-1.83,"y":7},{"s":"b","x":-2.1,"y":5},{"s":"b","x":-2.56,"y":3},{"s":"b","x":-3.3,"y":1},{"s":"b","x":-3.8,"y":0},{"s":"b","x":-5,"y":0},
{"s":"g","x":5,"y":0},{"s":"g","x":3.5,"y":0},{"s":"g","x":3.19,"y":0},{"s":"g","x":2.73,"y":2},{"s":"g","x":2.27,"y":3},{"s":"g","x":1.95,"y":5},{"s":"g","x":1.81,"y":8},{"s":"g","x":1.67,"y":17},{"s":"g","x":1.53,"y":40},{"s":"g","x":1.42,"y":67},{"s":"g","x":1.3,"y":90},{"s":"g","x":1.2,"y":99},{"s":"g","x":1.1,"y":88},{"s":"g","x":0.98,"y":63},{"s":"g","x":0.87,"y":45},{"s":"g","x":0.77,"y":38},{"s":"g","x":0.66,"y":43},{"s":"g","x":0.54,"y":40},{"s":"g","x":0.43,"y":30},{"s":"g","x":0.31,"y":17},{"s":"g","x":0.2,"y":0},{"s":"g","x":0.11,"y":-15},{"s":"g","x":0,"y":-25},{"s":"g","x":-0.08,"y":-15},{"s":"g","x":-0.17,"y":0},{"s":"g","x":-0.29,"y":17},{"s":"g","x":-0.4,"y":30},{"s":"g","x":-0.52,"y":40},{"s":"g","x":-0.63,"y":43},{"s":"g","x":-0.75,"y":38},{"s":"g","x":-0.84,"y":43},{"s":"g","x":-0.93,"y":60},{"s":"g","x":-1.05,"y":85},{"s":"g","x":-1.16,"y":99},{"s":"g","x":-1.28,"y":87},{"s":"g","x":-1.39,"y":57},{"s":"g","x":-1.51,"y":30},{"s":"g","x":-1.64,"y":13},{"s":"g","x":-1.83,"y":7},{"s":"g","x":-2.1,"y":5},{"s":"g","x":-2.56,"y":3},{"s":"g","x":-3.3,"y":1},{"s":"g","x":-3.8,"y":0},{"s":"g","x":-5,"y":0},
{"s":"r","x":5,"y":0},{"s":"r","x":2.27,"y":1},{"s":"r","x":1.81,"y":2},{"s":"r","x":1.58,"y":7},{"s":"r","x":1.44,"y":20},{"s":"r","x":1.35,"y":43},{"s":"r","x":1.28,"y":77},{"s":"r","x":1.2,"y":98},{"s":"r","x":1.14,"y":70},{"s":"r","x":1.08,"y":27},{"s":"r","x":1.03,"y":-2},{"s":"r","x":0.96,"y":-7},{"s":"r","x":0.87,"y":-5},{"s":"r","x":0.75,"y":3},{"s":"r","x":0.61,"y":8},{"s":"r","x":0.47,"y":7},{"s":"r","x":0.34,"y":-2},{"s":"r","x":0.2,"y":-12},{"s":"r","x":0.08,"y":-20},{"s":"r","x":0,"y":-22},{"s":"r","x":-0.12,"y":-20},{"s":"r","x":-0.31,"y":-12},{"s":"r","x":-0.49,"y":-5},{"s":"r","x":-0.72,"y":0},{"s":"r","x":-0.86,"y":3},{"s":"r","x":-0.95,"y":10},{"s":"r","x":-1.01,"y":17},{"s":"r","x":-1.07,"y":8},{"s":"r","x":-1.13,"y":-2},{"s":"r","x":-1.18,"y":8},{"s":"r","x":-1.25,"y":25},{"s":"r","x":-1.32,"y":18},{"s":"r","x":-1.41,"y":2},{"s":"r","x":-1.55,"y":-5},{"s":"r","x":-1.74,"y":-7},{"s":"r","x":-1.92,"y":-3},{"s":"r","x":-2.33,"y":-2},{"s":"r","x":-3.3,"y":0},{"s":"r","x":-5,"y":0}
]
},
"vconcat":[
{"width":724,"height":165,"layer":[
{"data":{"name":"p1"},"mark":{"type":"line","strokeWidth":2,"interpolate":"monotone"},"encoding":{"x":{"field":"x","type":"quantitative","scale":{"domain":[-5,5],"reverse":true,"nice":false,"zero":false},"axis":null},"y":{"field":"y","type":"quantitative","scale":{"domain":[-48.5,116.5],"nice":false,"zero":false},"axis":null},"color":{"field":"s","type":"nominal","scale":{"domain":["b","g","r"],"range":["#111111","#1a9e58","#e3262e"]},"legend":null}}},
{"data":{"name":"labels"},"transform":[{"filter":"datum.p==1"}],"mark":{"type":"text","align":"left","baseline":"middle","fontSize":22,"color":"#111111"},"encoding":{"x":{"datum":4.72,"type":"quantitative","scale":{"domain":[-5,5],"reverse":true,"nice":false,"zero":false},"axis":null},"y":{"datum":88.5,"type":"quantitative","scale":{"domain":[-48.5,116.5],"nice":false,"zero":false},"axis":null},"text":{"field":"b"}}},
{"data":{"name":"labels"},"transform":[{"filter":"datum.p==1"}],"mark":{"type":"text","align":"left","baseline":"middle","fontSize":22,"color":"#1a9e58"},"encoding":{"x":{"datum":4.72,"type":"quantitative","scale":{"domain":[-5,5],"reverse":true,"nice":false,"zero":false},"axis":null},"y":{"datum":59.5,"type":"quantitative","scale":{"domain":[-48.5,116.5],"nice":false,"zero":false},"axis":null},"text":{"field":"g"}}},
{"data":{"name":"labels"},"transform":[{"filter":"datum.p==1"}],"mark":{"type":"text","align":"left","baseline":"middle","fontSize":22,"color":"#e3262e"},"encoding":{"x":{"datum":4.72,"type":"quantitative","scale":{"domain":[-5,5],"reverse":true,"nice":false,"zero":false},"axis":null},"y":{"datum":31.5,"type":"quantitative","scale":{"domain":[-48.5,116.5],"nice":false,"zero":false},"axis":null},"text":{"field":"r"}}},
{"data":{"name":"labels"},"transform":[{"filter":"datum.p==1"}],"mark":{"type":"text","align":"center","baseline":"middle","fontSize":27,"color":"#111111"},"encoding":{"x":{"datum":-4.42,"type":"quantitative","scale":{"domain":[-5,5],"reverse":true,"nice":false,"zero":false},"axis":null},"y":{"datum":31.5,"type":"quantitative","scale":{"domain":[-48.5,116.5],"nice":false,"zero":false},"axis":null},"text":{"field":"site"}}}
]},
{"width":724,"height":155,"layer":[
{"data":{"name":"p2"},"mark":{"type":"line","strokeWidth":2,"interpolate":"monotone"},"encoding":{"x":{"field":"x","type":"quantitative","scale":{"domain":[-5,5],"reverse":true,"nice":false,"zero":false},"axis":null},"y":{"field":"y","type":"quantitative","scale":{"domain":[-52,103],"nice":false,"zero":false},"axis":null},"color":{"field":"s","type":"nominal","scale":{"domain":["b","g","r"],"range":["#111111","#1a9e58","#e3262e"]},"legend":null}}},
{"data":{"name":"labels"},"transform":[{"filter":"datum.p==2"}],"mark":{"type":"text","align":"left","baseline":"middle","fontSize":22,"color":"#111111"},"encoding":{"x":{"datum":4.72,"type":"quantitative","scale":{"domain":[-5,5],"reverse":true,"nice":false,"zero":false},"axis":null},"y":{"datum":95,"type":"quantitative","scale":{"domain":[-52,103],"nice":false,"zero":false},"axis":null},"text":{"field":"b"}}},
{"data":{"name":"labels"},"transform":[{"filter":"datum.p==2"}],"mark":{"type":"text","align":"left","baseline":"middle","fontSize":22,"color":"#1a9e58"},"encoding":{"x":{"datum":4.72,"type":"quantitative","scale":{"domain":[-5,5],"reverse":true,"nice":false,"zero":false},"axis":null},"y":{"datum":65,"type":"quantitative","scale":{"domain":[-52,103],"nice":false,"zero":false},"axis":null},"text":{"field":"g"}}},
{"data":{"name":"labels"},"transform":[{"filter":"datum.p==2"}],"mark":{"type":"text","align":"left","baseline":"middle","fontSize":22,"color":"#e3262e"},"encoding":{"x":{"datum":4.72,"type":"quantitative","scale":{"domain":[-5,5],"reverse":true,"nice":false,"zero":false},"axis":null},"y":{"datum":38,"type":"quantitative","scale":{"domain":[-52,103],"nice":false,"zero":false},"axis":null},"text":{"field":"r"}}},
{"data":{"name":"labels"},"transform":[{"filter":"datum.p==2"}],"mark":{"type":"text","align":"center","baseline":"middle","fontSize":27,"color":"#111111"},"encoding":{"x":{"datum":-4.42,"type":"quantitative","scale":{"domain":[-5,5],"reverse":true,"nice":false,"zero":false},"axis":null},"y":{"datum":34,"type":"quantitative","scale":{"domain":[-52,103],"nice":false,"zero":false},"axis":null},"text":{"field":"site"}}}
]},
{"width":724,"height":160,"layer":[
{"data":{"name":"p3"},"mark":{"type":"line","strokeWidth":2,"interpolate":"monotone"},"encoding":{"x":{"field":"x","type":"quantitative","scale":{"domain":[-5,5],"reverse":true,"nice":false,"zero":false},"axis":null},"y":{"field":"y","type":"quantitative","scale":{"domain":[-50,110],"nice":false,"zero":false},"axis":null},"color":{"field":"s","type":"nominal","scale":{"domain":["b","g","r"],"range":["#111111","#1a9e58","#e3262e"]},"legend":null}}},
{"data":{"name":"labels"},"transform":[{"filter":"datum.p==3"}],"mark":{"type":"text","align":"left","baseline":"middle","fontSize":22,"color":"#111111"},"encoding":{"x":{"datum":4.72,"type":"quantitative","scale":{"domain":[-5,5],"reverse":true,"nice":false,"zero":false},"axis":null},"y":{"datum":100,"type":"quantitative","scale":{"domain":[-50,110],"nice":false,"zero":false},"axis":null},"text":{"field":"b"}}},
{"data":{"name":"labels"},"transform":[{"filter":"datum.p==3"}],"mark":{"type":"text","align":"left","baseline":"middle","fontSize":22,"color":"#1a9e58"},"encoding":{"x":{"datum":4.72,"type":"quantitative","scale":{"domain":[-5,5],"reverse":true,"nice":false,"zero":false},"axis":null},"y":{"datum":70,"type":"quantitative","scale":{"domain":[-50,110],"nice":false,"zero":false},"axis":null},"text":{"field":"g"}}},
{"data":{"name":"labels"},"transform":[{"filter":"datum.p==3"}],"mark":{"type":"text","align":"left","baseline":"middle","fontSize":22,"color":"#e3262e"},"encoding":{"x":{"datum":4.72,"type":"quantitative","scale":{"domain":[-5,5],"reverse":true,"nice":false,"zero":false},"axis":null},"y":{"datum":40,"type":"quantitative","scale":{"domain":[-50,110],"nice":false,"zero":false},"axis":null},"text":{"field":"r"}}},
{"data":{"name":"labels"},"transform":[{"filter":"datum.p==3"}],"mark":{"type":"text","align":"center","baseline":"middle","fontSize":27,"color":"#111111"},"encoding":{"x":{"datum":-4.42,"type":"quantitative","scale":{"domain":[-5,5],"reverse":true,"nice":false,"zero":false},"axis":null},"y":{"datum":35,"type":"quantitative","scale":{"domain":[-50,110],"nice":false,"zero":false},"axis":null},"text":{"field":"site"}}}
]},
{"width":724,"height":160,"layer":[
{"data":{"name":"p4"},"mark":{"type":"line","strokeWidth":2,"interpolate":"monotone"},"encoding":{"x":{"field":"x","type":"quantitative","scale":{"domain":[-5,5],"reverse":true,"nice":false,"zero":false},"axis":null},"y":{"field":"y","type":"quantitative","scale":{"domain":[-48,112],"nice":false,"zero":false},"axis":null},"color":{"field":"s","type":"nominal","scale":{"domain":["b","g","r"],"range":["#111111","#1a9e58","#e3262e"]},"legend":null}}},
{"data":{"name":"labels"},"transform":[{"filter":"datum.p==4"}],"mark":{"type":"text","align":"left","baseline":"middle","fontSize":22,"color":"#111111"},"encoding":{"x":{"datum":4.72,"type":"quantitative","scale":{"domain":[-5,5],"reverse":true,"nice":false,"zero":false},"axis":null},"y":{"datum":104,"type":"quantitative","scale":{"domain":[-48,112],"nice":false,"zero":false},"axis":null},"text":{"field":"b"}}},
{"data":{"name":"labels"},"transform":[{"filter":"datum.p==4"}],"mark":{"type":"text","align":"left","baseline":"middle","fontSize":22,"color":"#1a9e58"},"encoding":{"x":{"datum":4.72,"type":"quantitative","scale":{"domain":[-5,5],"reverse":true,"nice":false,"zero":false},"axis":null},"y":{"datum":73,"type":"quantitative","scale":{"domain":[-48,112],"nice":false,"zero":false},"axis":null},"text":{"field":"g"}}},
{"data":{"name":"labels"},"transform":[{"filter":"datum.p==4"}],"mark":{"type":"text","align":"left","baseline":"middle","fontSize":22,"color":"#e3262e"},"encoding":{"x":{"datum":4.72,"type":"quantitative","scale":{"domain":[-5,5],"reverse":true,"nice":false,"zero":false},"axis":null},"y":{"datum":42,"type":"quantitative","scale":{"domain":[-48,112],"nice":false,"zero":false},"axis":null},"text":{"field":"r"}}},
{"data":{"name":"labels"},"transform":[{"filter":"datum.p==4"}],"mark":{"type":"text","align":"center","baseline":"middle","fontSize":27,"color":"#111111"},"encoding":{"x":{"datum":-4.42,"type":"quantitative","scale":{"domain":[-5,5],"reverse":true,"nice":false,"zero":false},"axis":null},"y":{"datum":34,"type":"quantitative","scale":{"domain":[-48,112],"nice":false,"zero":false},"axis":null},"text":{"field":"site"}}}
]},
{"width":724,"height":150,"layer":[
{"data":{"name":"p5"},"mark":{"type":"line","strokeWidth":2,"interpolate":"monotone"},"encoding":{"x":{"field":"x","type":"quantitative","scale":{"domain":[-5,5],"reverse":true,"nice":false,"zero":false},"axis":null},"y":{"field":"y","type":"quantitative","scale":{"domain":[-70.5,79.5],"nice":false,"zero":false},"axis":null},"color":{"field":"s","type":"nominal","scale":{"domain":["b","g","r"],"range":["#111111","#1a9e58","#e3262e"]},"legend":null}}},
{"data":{"name":"labels"},"transform":[{"filter":"datum.p==5"}],"mark":{"type":"text","align":"left","baseline":"middle","fontSize":22,"color":"#111111"},"encoding":{"x":{"datum":4.72,"type":"quantitative","scale":{"domain":[-5,5],"reverse":true,"nice":false,"zero":false},"axis":null},"y":{"datum":92.5,"type":"quantitative","scale":{"domain":[-70.5,79.5],"nice":false,"zero":false},"axis":null},"text":{"field":"b"}}},
{"data":{"name":"labels"},"transform":[{"filter":"datum.p==5"}],"mark":{"type":"text","align":"left","baseline":"middle","fontSize":22,"color":"#1a9e58"},"encoding":{"x":{"datum":4.72,"type":"quantitative","scale":{"domain":[-5,5],"reverse":true,"nice":false,"zero":false},"axis":null},"y":{"datum":64.5,"type":"quantitative","scale":{"domain":[-70.5,79.5],"nice":false,"zero":false},"axis":null},"text":{"field":"g"}}},
{"data":{"name":"labels"},"transform":[{"filter":"datum.p==5"}],"mark":{"type":"text","align":"left","baseline":"middle","fontSize":22,"color":"#e3262e"},"encoding":{"x":{"datum":4.72,"type":"quantitative","scale":{"domain":[-5,5],"reverse":true,"nice":false,"zero":false},"axis":null},"y":{"datum":34.5,"type":"quantitative","scale":{"domain":[-70.5,79.5],"nice":false,"zero":false},"axis":null},"text":{"field":"r"}}},
{"data":{"name":"labels"},"transform":[{"filter":"datum.p==5"}],"mark":{"type":"text","align":"center","baseline":"middle","fontSize":27,"color":"#111111"},"encoding":{"x":{"datum":-4.42,"type":"quantitative","scale":{"domain":[-5,5],"reverse":true,"nice":false,"zero":false},"axis":null},"y":{"datum":31.5,"type":"quantitative","scale":{"domain":[-70.5,79.5],"nice":false,"zero":false},"axis":null},"text":{"field":"site"}}}
]},
{"width":724,"height":140,"layer":[
{"data":{"name":"p6"},"mark":{"type":"line","strokeWidth":2,"interpolate":"monotone"},"encoding":{"x":{"field":"x","type":"quantitative","scale":{"domain":[-5,5],"reverse":true,"nice":false,"zero":false},"axis":null},"y":{"field":"y","type":"quantitative","scale":{"domain":[-65,75],"nice":false,"zero":false},"axis":null},"color":{"field":"s","type":"nominal","scale":{"domain":["b","g","r"],"range":["#111111","#1a9e58","#e3262e"]},"legend":null}}},
{"data":{"name":"labels"},"transform":[{"filter":"datum.p==6"}],"mark":{"type":"text","align":"left","baseline":"middle","fontSize":22,"color":"#111111"},"encoding":{"x":{"datum":4.72,"type":"quantitative","scale":{"domain":[-5,5],"reverse":true,"nice":false,"zero":false},"axis":null},"y":{"datum":97,"type":"quantitative","scale":{"domain":[-65,75],"nice":false,"zero":false},"axis":null},"text":{"field":"b"}}},
{"data":{"name":"labels"},"transform":[{"filter":"datum.p==6"}],"mark":{"type":"text","align":"left","baseline":"middle","fontSize":22,"color":"#1a9e58"},"encoding":{"x":{"datum":4.72,"type":"quantitative","scale":{"domain":[-5,5],"reverse":true,"nice":false,"zero":false},"axis":null},"y":{"datum":67,"type":"quantitative","scale":{"domain":[-65,75],"nice":false,"zero":false},"axis":null},"text":{"field":"g"}}},
{"data":{"name":"labels"},"transform":[{"filter":"datum.p==6"}],"mark":{"type":"text","align":"left","baseline":"middle","fontSize":22,"color":"#e3262e"},"encoding":{"x":{"datum":4.72,"type":"quantitative","scale":{"domain":[-5,5],"reverse":true,"nice":false,"zero":false},"axis":null},"y":{"datum":38,"type":"quantitative","scale":{"domain":[-65,75],"nice":false,"zero":false},"axis":null},"text":{"field":"r"}}},
{"data":{"name":"labels"},"transform":[{"filter":"datum.p==6"}],"mark":{"type":"text","align":"center","baseline":"middle","fontSize":27,"color":"#111111"},"encoding":{"x":{"datum":-4.42,"type":"quantitative","scale":{"domain":[-5,5],"reverse":true,"nice":false,"zero":false},"axis":null},"y":{"datum":35,"type":"quantitative","scale":{"domain":[-65,75],"nice":false,"zero":false},"axis":null},"text":{"field":"site"}}}
]},
{"width":724,"height":135,"resolve":{"axis":{"x":"independent"}},"layer":[
{"data":{"name":"p7"},"mark":{"type":"line","strokeWidth":2,"interpolate":"monotone"},"encoding":{"x":{"field":"x","type":"quantitative","scale":{"domain":[-5,5],"reverse":true,"nice":false,"zero":false},"axis":{"orient":"bottom","values":[5,4,3,2,1,0,-1,-2,-3,-4,-5],"tickSize":9,"labelExpr":"''+datum.value","labelOverlap":false,"labelFlush":false,"labelBound":false,"labelFont":"Open Sans","labelFontSize":21,"labelColor":"#111111","labelPadding":10,"domainColor":"#111111","domainWidth":1.5,"tickColor":"#111111","tickWidth":1.2,"grid":false,"title":"¹³C-¹H Dipolar Coupling (kHz)","titleFont":"Liberation Sans","titleFontSize":32,"titleFontWeight":"normal","titleColor":"#111111","titlePadding":5}},"y":{"field":"y","type":"quantitative","scale":{"domain":[-68,67],"nice":false,"zero":false},"axis":null},"color":{"field":"s","type":"nominal","scale":{"domain":["b","g","r"],"range":["#111111","#1a9e58","#e3262e"]},"legend":null}}},
{"data":{"name":"labels"},"transform":[{"filter":"datum.p==7"}],"mark":{"type":"text","align":"left","baseline":"middle","fontSize":22,"color":"#111111"},"encoding":{"x":{"datum":4.72,"type":"quantitative","scale":{"domain":[-5,5],"reverse":true,"nice":false,"zero":false},"axis":{"orient":"bottom","values":[4.5,3.5,2.5,1.5,0.5,-0.5,-1.5,-2.5,-3.5,-4.5],"tickSize":6,"labels":false,"domain":false,"grid":false,"title":null,"tickColor":"#111111","tickWidth":1}},"y":{"datum":92,"type":"quantitative","scale":{"domain":[-68,67],"nice":false,"zero":false},"axis":null},"text":{"field":"b"}}},
{"data":{"name":"labels"},"transform":[{"filter":"datum.p==7"}],"mark":{"type":"text","align":"left","baseline":"middle","fontSize":22,"color":"#1a9e58"},"encoding":{"x":{"datum":4.72,"type":"quantitative","scale":{"domain":[-5,5],"reverse":true,"nice":false,"zero":false},"axis":{"orient":"bottom","values":[4.9,4.8,4.7,4.6,4.4,4.3,4.2,4.1,3.9,3.8,3.7,3.6,3.4,3.3,3.2,3.1,2.9,2.8,2.7,2.6,2.4,2.3,2.2,2.1,1.9,1.8,1.7,1.6,1.4,1.3,1.2,1.1,0.9,0.8,0.7,0.6,0.4,0.3,0.2,0.1,-0.1,-0.2,-0.3,-0.4,-0.6,-0.7,-0.8,-0.9,-1.1,-1.2,-1.3,-1.4,-1.6,-1.7,-1.8,-1.9,-2.1,-2.2,-2.3,-2.4,-2.6,-2.7,-2.8,-2.9,-3.1,-3.2,-3.3,-3.4,-3.6,-3.7,-3.8,-3.9,-4.1,-4.2,-4.3,-4.4,-4.6,-4.7,-4.8,-4.9],"tickSize":4,"labels":false,"domain":false,"grid":false,"title":null,"tickColor":"#111111","tickWidth":1}},"y":{"datum":62,"type":"quantitative","scale":{"domain":[-68,67],"nice":false,"zero":false},"axis":null},"text":{"field":"g"}}},
{"data":{"name":"labels"},"transform":[{"filter":"datum.p==7"}],"mark":{"type":"text","align":"left","baseline":"middle","fontSize":22,"color":"#e3262e"},"encoding":{"x":{"datum":4.72,"type":"quantitative","scale":{"domain":[-5,5],"reverse":true,"nice":false,"zero":false},"axis":null},"y":{"datum":34,"type":"quantitative","scale":{"domain":[-68,67],"nice":false,"zero":false},"axis":null},"text":{"field":"r"}}},
{"data":{"name":"labels"},"transform":[{"filter":"datum.p==7"}],"mark":{"type":"text","align":"center","baseline":"middle","fontSize":27,"color":"#111111"},"encoding":{"x":{"datum":-4.55,"type":"quantitative","scale":{"domain":[-5,5],"reverse":true,"nice":false,"zero":false},"axis":null},"y":{"datum":30,"type":"quantitative","scale":{"domain":[-68,67],"nice":false,"zero":false},"axis":null},"text":{"field":"site"}}}
]}
]
}
